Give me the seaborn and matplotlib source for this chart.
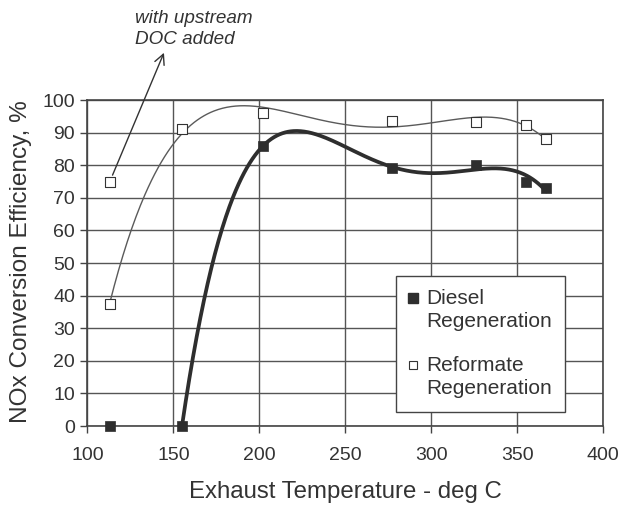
import numpy as np
import matplotlib
matplotlib.use("Agg")
import matplotlib.pyplot as plt
import seaborn as sns
import pandas as pd
from matplotlib.lines import Line2D
from matplotlib.legend_handler import HandlerLine2D

# Measured NOx conversion efficiency (%) versus exhaust temperature (deg C)
diesel_temp = [113, 155, 202, 277, 326, 355, 367]
diesel_eff = [0, 0, 86, 79, 80, 75, 73]
reformate_temp = [113, 155, 202, 277, 326, 355, 367]
reformate_eff = [37.5, 91, 96, 93.5, 93.3, 92.3, 88]
doc_temp = [113]
doc_eff = [75]

x_ticks = [100, 150, 200, 250, 300, 350, 400]
y_ticks = [0, 10, 20, 30, 40, 50, 60, 70, 80, 90, 100]

diesel_df = pd.DataFrame({"temp": diesel_temp, "eff": diesel_eff})
reformate_df = pd.DataFrame({"temp": reformate_temp + doc_temp,
                             "eff": reformate_eff + doc_eff})

sns.set_style("white")
plt.rcParams["font.family"] = ["Liberation Sans", "DejaVu Sans"]

TEXT = "#333333"
GRID = "#555555"
TREND_ORDER = 4


def trend_frame(xs, ys, order):
    """Polynomial trendline evaluated across the span of the data."""
    coef = np.polyfit(xs, ys, order)
    grid = np.linspace(min(xs), max(xs), 400)
    return pd.DataFrame({"temp": grid, "eff": np.polyval(coef, grid)})


class FirstLineHandler(HandlerLine2D):
    """Places the legend marker beside the first line of a two-line label."""

    def create_artists(self, legend, orig_handle, xdescent, ydescent,
                       width, height, fontsize, trans):
        artists = super().create_artists(legend, orig_handle, xdescent, ydescent,
                                         width, height, fontsize, trans)
        shift = 0.62 * fontsize
        for a in artists:
            a.set_ydata(np.asarray(a.get_ydata(), dtype=float) + shift)
        return artists


fig = plt.figure(figsize=(6.21, 5.08), dpi=100)
ax = fig.add_axes([0.1409, 0.1614, 0.8302, 0.6417])

# polynomial trendlines (diesel trend fitted from the first non-zero rise onward)
reformate_trend = trend_frame(reformate_temp, reformate_eff, TREND_ORDER)
diesel_trend = trend_frame(diesel_temp[1:], diesel_eff[1:], TREND_ORDER)
sns.lineplot(data=reformate_trend, x="temp", y="eff", ax=ax, color="#5a5a5a",
             lw=1.0, zorder=3, sort=False)
sns.lineplot(data=diesel_trend, x="temp", y="eff", ax=ax, color="#2e2e2e",
             lw=2.7, zorder=3, sort=False, solid_capstyle="round")

# measured points
sns.scatterplot(data=reformate_df, x="temp", y="eff", ax=ax, marker="s", s=44,
                facecolor="white", edgecolor="#333333", linewidth=0.8, zorder=4,
                legend=False, clip_on=False)
sns.scatterplot(data=diesel_df, x="temp", y="eff", ax=ax, marker="s", s=46,
                color="#2e2e2e", edgecolor="#2e2e2e", linewidth=0.5, zorder=5,
                legend=False, clip_on=False)

ax.set_xlim(100, 400)
ax.set_ylim(0, 100)
ax.set_xticks(x_ticks)
ax.set_yticks(y_ticks)
ax.grid(True, color=GRID, lw=1.0)
ax.set_axisbelow(True)
for sp in ax.spines.values():
    sp.set_color("#444444")
    sp.set_linewidth(1.2)
ax.tick_params(axis="both", direction="out", length=5, width=1.0, color="#444444",
               labelsize=14, labelcolor=TEXT, bottom=True, left=True)
ax.tick_params(axis="x", pad=10)
ax.tick_params(axis="y", pad=4)

ax.set_xlabel("Exhaust Temperature - deg C", fontsize=17.3, color=TEXT, labelpad=12)
ax.set_ylabel("NOx Conversion Efficiency, %", fontsize=17.6, color=TEXT)
ax.yaxis.set_label_coords(-0.108, 0.505)

# note for the point measured with the upstream DOC
ax.annotate("", xy=(144.5, 114.5), xytext=(doc_temp[0], doc_eff[0]),
            xycoords="data", textcoords="data", annotation_clip=False,
            arrowprops=dict(arrowstyle="->", lw=1.0, color="#333333",
                            mutation_scale=18, shrinkA=5, shrinkB=0))
ax.text(127.8, 127.6, "with upstream\nDOC added", fontsize=13.6, style="italic",
        color=TEXT, ha="left", va="top", linespacing=1.3, clip_on=False)

handles = [
    Line2D([], [], ls="none", marker="s", markersize=7, color="#2e2e2e",
           markeredgecolor="#2e2e2e"),
    Line2D([], [], ls="none", marker="s", markersize=6, markerfacecolor="white",
           markeredgecolor="#333333", markeredgewidth=0.8),
]
leg = ax.legend(handles, ["Diesel\nRegeneration", "Reformate\nRegeneration"],
                loc="lower left", bbox_to_anchor=(0.598, 0.043), borderaxespad=0,
                fontsize=15, frameon=True, fancybox=False, framealpha=1,
                edgecolor="#444444", handlelength=0.34, handletextpad=0.46,
                labelspacing=1.2, borderpad=0.65,
                handler_map={Line2D: FirstLineHandler()})
leg.get_frame().set_linewidth(1.0)
for t in leg.get_texts():
    t.set_color(TEXT)
    t.set_linespacing(1.27)

fig.savefig("out.png", dpi=100, facecolor="white")
